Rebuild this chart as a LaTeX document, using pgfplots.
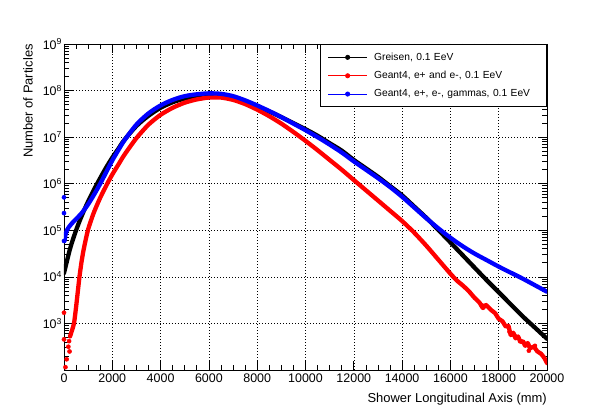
\documentclass[border=0pt]{standalone}
\usepackage{fontspec}
\setmainfont{Liberation Sans}
\usepackage{pgfplots}
\pgfplotsset{compat=1.18}

% Longitudinal shower profiles (number of particles vs. depth)
\pgfplotstableread{
x      N
0      1.2e4
250    4.0e4
500    1.0e5
750    2.14e5
1000   4.17e5
1250   7.59e5
1500   1.32e6
1750   2.24e6
2000   3.63e6
2250   5.62e6
2500   8.71e6
3000   1.74e7
3500   2.88e7
4000   4.27e7
4500   5.62e7
5000   6.76e7
5500   7.59e7
6000   7.94e7
6500   7.76e7
7000   7.08e7
7500   5.89e7
8000   4.57e7
8500   3.55e7
9000   2.69e7
9500   2.0e7
10000  1.48e7
10500  1.07e7
11000  7.41e6
11500  5.13e6
12000  3.24e6
12500  2.14e6
13000  1.41e6
13500  8.91e5
14000  5.62e5
14500  3.24e5
15000  1.86e5
15500  1.02e5
16000  5.5e4
16500  2.95e4
17000  1.58e4
17500  8.51e3
18000  4.68e3
18500  2.57e3
19000  1.41e3
19500  813
20000  468
}\greisen

\pgfplotstableread{
x      N
250    525
330    708
414    1000
500    2240
580    5250
640    1.0e4
720    2.0e4
800    3.55e4
900    6.31e4
1000   1.05e5
1125   1.66e5
1250   2.51e5
1500   5.01e5
1790   1.0e6
2000   1.58e6
2250   2.57e6
2500   4.17e6
3000   9.55e6
3500   1.86e7
4000   3.02e7
4500   4.27e7
5000   5.5e7
5500   6.46e7
6000   7.08e7
6500   7.08e7
7000   6.31e7
7500   5.13e7
8000   3.89e7
8500   2.82e7
9000   1.95e7
9500   1.29e7
10000  8.32e6
10500  5.25e6
11000  3.24e6
11500  2.0e6
12000  1.2e6
12500  7.24e5
13000  4.37e5
13500  2.63e5
14000  1.58e5
14500  8.91e4
15000  4.68e4
15500  2.34e4
16000  1.17e4
16250  8.51e3
16500  6.61e3
16750  5.01e3
17000  3.55e3
17200  2.82e3
17350  2.14e3
17450  2.51e3
17550  2.29e3
17700  1.91e3
17850  1.66e3
18000  1.26e3
18150  1.12e3
18300  851
18400  891
18500  562
18600  631
18700  479
18800  525
18900  398
19000  417
19100  331
19200  380
19300  295
19450  316
19600  251
19750  224
19900  178
20000  141
}\geantee

\pgfplotstableread{
x      N
20     5.9e4
60     7.94e4
120    1.0e5
200    1.17e5
350    1.45e5
500    1.74e5
750    2.4e5
1000   3.63e5
1250   5.89e5
1500   1.0e6
1750   1.78e6
2000   3.16e6
2250   5.25e6
2500   8.51e6
3000   1.86e7
3500   3.24e7
4000   4.79e7
4500   6.31e7
5000   7.59e7
5500   8.32e7
6000   8.71e7
6500   8.51e7
7000   7.59e7
7500   6.17e7
8000   4.79e7
8500   3.63e7
9000   2.69e7
9500   1.95e7
10000  1.41e7
10500  1.0e7
11000  6.92e6
11500  4.68e6
12000  3.02e6
12500  2.0e6
13000  1.32e6
13500  8.51e5
14000  5.25e5
14500  3.09e5
15000  1.82e5
15500  1.1e5
16000  6.92e4
16500  4.57e4
17000  3.16e4
17500  2.29e4
18000  1.66e4
18500  1.23e4
19000  9.12e3
19500  6.61e3
20000  4.79e3
}\geantall

\begin{document}
\begin{tikzpicture}
\begin{axis}[
  name=ax,
  width=483bp, height=326bp, scale only axis,
  xmin=0, xmax=20000, ymin=100, ymax=1e9, ymode=log,
  axis line style={black, line width=0.8bp},
  tick style={black, line width=0.7bp},
  tick align=inside, tickpos=both,
  major tick length=9bp, minor tick length=5bp,
  scaled x ticks=false,
  xtick={0,2000,4000,6000,8000,10000,12000,14000,16000,18000,20000},
  xticklabels={0,2000,4000,6000,8000,10000,12000,14000,16000,18000,20000},
  minor x tick num=3,
  ytick={1e2,1e3,1e4,1e5,1e6,1e7,1e8,1e9},
  yticklabels={,10\textsuperscript{3},10\textsuperscript{4},10\textsuperscript{5},10\textsuperscript{6},10\textsuperscript{7},10\textsuperscript{8},10\textsuperscript{9}},
  minor ytick={200,300,400,500,600,700,800,900,
    2000,3000,4000,5000,6000,7000,8000,9000,
    2e4,3e4,4e4,5e4,6e4,7e4,8e4,9e4,
    2e5,3e5,4e5,5e5,6e5,7e5,8e5,9e5,
    2e6,3e6,4e6,5e6,6e6,7e6,8e6,9e6,
    2e7,3e7,4e7,5e7,6e7,7e7,8e7,9e7,
    2e8,3e8,4e8,5e8,6e8,7e8,8e8,9e8},
  xticklabel style={font=\fontsize{12.5}{15}\selectfont},
  yticklabel style={font=\fontsize{12.5}{15}\selectfont, xshift=1.5bp},
  grid=major,
  major grid style={black, line width=0.6bp, dash pattern=on 0.9bp off 2.1bp},
  legend cell align=left,
  legend image code/.code={%
    \draw[#1, line width=0.9bp] (0bp,0bp) -- (39bp,0bp);
    \fill[#1] (19.5bp,0bp) circle (2.1bp);},
  legend style={at={(rel axis cs:1,1)}, anchor=north east,
    draw=black, line width=0.8bp, fill=white,
    font=\fontsize{10.3}{12.4}\selectfont,
    inner xsep=7bp, inner ysep=6.5bp, row sep=5.5bp,
    nodes={inner xsep=3.5bp, text width=162bp},
    /tikz/every odd column/.append style={column sep=3bp}},
]
\addplot[black, smooth, tension=0.5, line width=4.3bp, line cap=round, line join=round, forget plot]
  table[x=x, y=N] {\greisen};
\addplot[red, smooth, tension=0.4, line width=4.3bp, line cap=round, line join=round, forget plot]
  table[x=x, y=N] {\geantee};
\addplot[red, only marks, mark=*, mark size=2.1bp, forget plot] coordinates {
  (0,1700) (0,455) (60,115) (110,170) (180,316) (210,417) (230,250)
  (17300,2450) (18450,660) (18650,560) (19250,260) (19500,330)};
\addplot[blue, smooth, tension=0.5, line width=4.3bp, line cap=round, line join=round, forget plot]
  table[x=x, y=N] {\geantall};
\addplot[blue, only marks, mark=*, mark size=2.1bp, forget plot] coordinates {
  (0,5.1e5) (0,2.34e5) (0,5.9e4)};

\addlegendimage{black}
\addlegendentry{Greisen, 0.1 EeV}
\addlegendimage{red}
\addlegendentry{Geant4, e+ and e-, 0.1 EeV}
\addlegendimage{blue}
\addlegendentry{Geant4, e+, e-, gammas, 0.1 EeV}
\end{axis}

\node[rotate=90, anchor=south east, inner sep=0pt, font=\fontsize{13}{15}\selectfont]
  at ([xshift=-31bp]ax.north west) {Number of Particles};
\node[anchor=base east, inner sep=0pt, font=\fontsize{13}{15}\selectfont]
  at ([yshift=-32bp]ax.south east) {Shower Longitudinal Axis (mm)};

\path ([shift={(-64bp,-41bp)}]ax.south west) rectangle ([shift={(53bp,44bp)}]ax.north east);
\end{tikzpicture}
\end{document}
